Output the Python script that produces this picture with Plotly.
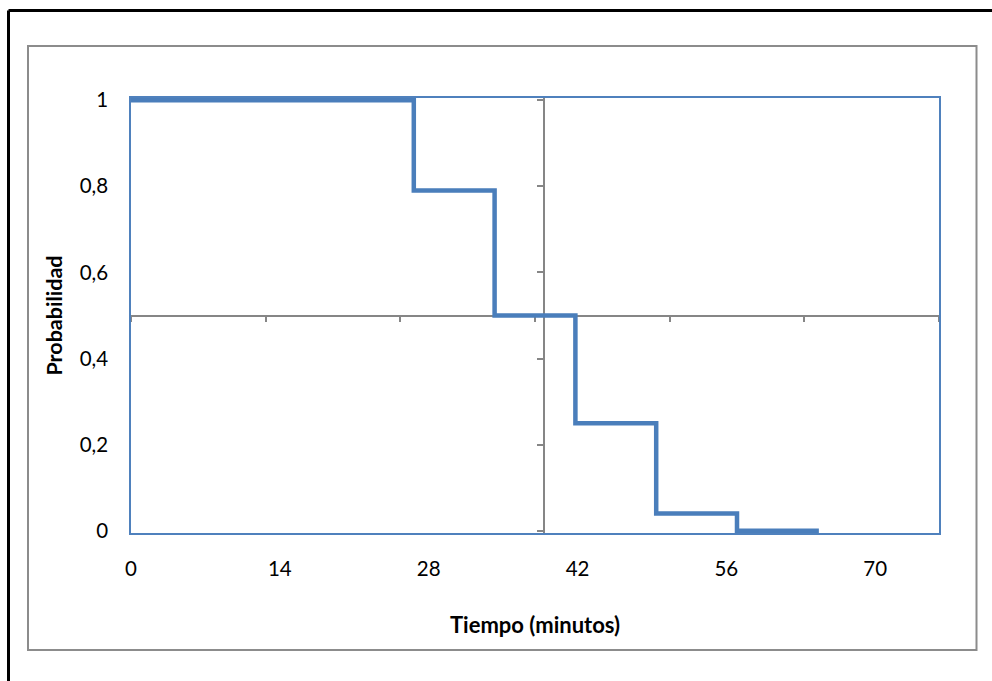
import plotly.graph_objects as go

# Kaplan-Meier style survival steps
tiempo = [0, 26.6, 34.2, 41.8, 49.4, 57.0, 64.7]
probabilidad = [1, 0.79, 0.5, 0.25, 0.04, 0, 0]

# Median crosshair
mediana_x = 38.8
mediana_y = 0.5

x_ticks = [0, 14, 28, 42, 56, 70]
y_ticks = [0, 0.2, 0.4, 0.6, 0.8, 1]

X_MAX = 76
Y_RANGE = [-0.005, 1.005]

W, H = 992, 681
ML, MR, MT, MB = 131, 53, 98, 148
PW, PH = W - ML - MR, H - MT - MB


def fx(px):
    return (px - ML) / PW


def fy(py):
    return (H - MB - py) / PH


FONT = "Lato, 'Open Sans', sans-serif"
BLUE = "#4A7EBB"
FRAME = "#4F81BD"
GRAY = "#868686"

fig = go.Figure()

fig.add_trace(go.Scatter(
    x=tiempo, y=probabilidad, mode="lines", line_shape="hv",
    line=dict(color=BLUE, width=4.5), showlegend=False, hoverinfo="skip",
))

# carrier trace for the crosshair axes
fig.add_trace(go.Scatter(
    x=[mediana_x], y=[mediana_y], xaxis="x2", yaxis="y2", mode="markers",
    marker=dict(opacity=0), showlegend=False, hoverinfo="skip",
))

fig.update_layout(
    width=W, height=H,
    margin=dict(l=ML, r=MR, t=MT, b=MB, pad=0),
    paper_bgcolor="white", plot_bgcolor="white",
    separators=", ",
    font=dict(family=FONT, size=20, color="black"),
    xaxis=dict(
        range=[0, X_MAX], tickvals=x_ticks, ticktext=[str(v) for v in x_ticks],
        showgrid=False, zeroline=False,
        showline=True, mirror=True, linecolor=FRAME, linewidth=1.6,
        ticks="", ticklabelstandoff=17,
        tickfont=dict(size=20.5),
        title=dict(text="<b>Tiempo (minutos)</b>", font=dict(size=22), standoff=38),
    ),
    yaxis=dict(
        range=Y_RANGE, tickvals=y_ticks,
        showgrid=False, zeroline=False,
        showline=True, mirror=True, linecolor=FRAME, linewidth=1.6,
        ticks="", ticklabelstandoff=17,
        tickfont=dict(size=20.5),
        title=dict(text="<b>Probabilidad</b>", font=dict(size=21.5), standoff=11),
    ),
    xaxis2=dict(
        overlaying="x", anchor="free",
        position=(mediana_y - Y_RANGE[0]) / (Y_RANGE[1] - Y_RANGE[0]),
        side="bottom", range=[0, X_MAX], tick0=0, dtick=X_MAX / 6,
        showline=True, linecolor=GRAY, linewidth=1.5,
        ticks="outside", ticklen=6, tickwidth=1.5, tickcolor=GRAY,
        showticklabels=False, showgrid=False, zeroline=False, layer="below traces",
    ),
    yaxis2=dict(
        overlaying="y", anchor="free", position=mediana_x / X_MAX,
        side="left", range=Y_RANGE, tick0=0, dtick=0.2,
        showline=True, linecolor=GRAY, linewidth=1.5,
        ticks="outside", ticklen=6, tickwidth=1.5, tickcolor=GRAY,
        showticklabels=False, showgrid=False, zeroline=False, layer="below traces",
    ),
    shapes=[
        # chart area border
        dict(type="rect", xref="paper", yref="paper",
             x0=fx(28), x1=fx(976.5), y0=fy(650), y1=fy(46),
             line=dict(color="#8C8C8C", width=2), layer="below"),
        # outer frame
        dict(type="line", xref="paper", yref="paper",
             x0=fx(8.5), x1=fx(8.5), y0=fy(700), y1=fy(10.5),
             line=dict(color="black", width=3)),
        dict(type="line", xref="paper", yref="paper",
             x0=fx(8.5), x1=fx(1010), y0=fy(10.5), y1=fy(10.5),
             line=dict(color="black", width=3)),
    ],
)

fig.write_html("out.html")
